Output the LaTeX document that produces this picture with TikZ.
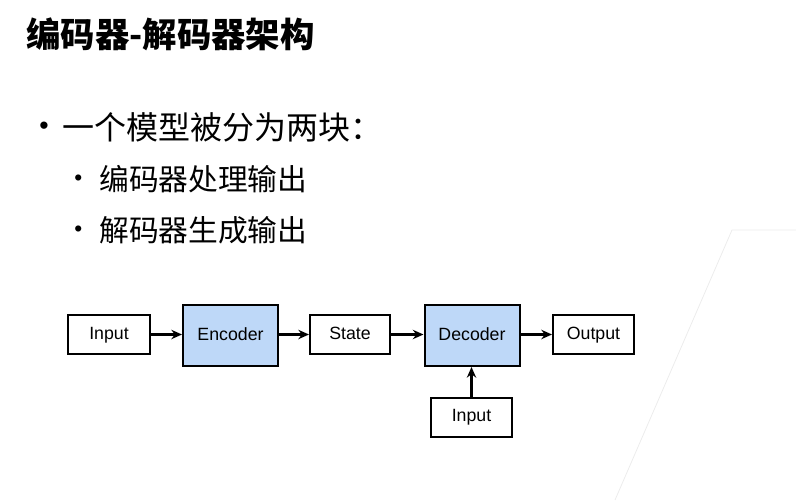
\documentclass[tikz,border=0pt]{standalone}
\usepackage{fontspec}
\setmainfont{Liberation Sans}
\newfontfamily\cjk{Noto Sans CJK SC}
\usetikzlibrary{arrows.meta}
\definecolor{boxblue}{RGB}{190,216,248}
\definecolor{deco}{RGB}{236,236,236}
\tikzset{
  plainbox/.style={draw=black, line width=1.5pt, minimum height=39*0.75pt, inner sep=0pt, text height=10pt, text depth=2.7pt, font=\fontsize{13.3}{15}\selectfont},
  codebox/.style={draw=black, line width=1.5pt, fill=boxblue, minimum width=95*0.75pt, minimum height=61*0.75pt, inner sep=0pt, text height=10pt, text depth=2.7pt, font=\fontsize{13.3}{15}\selectfont},
  flow/.style={draw=black, line width=1.6pt, -{Stealth[length=8pt,width=7pt]}},
  txt/.style={anchor=west, inner sep=0pt},
}
\begin{document}
\begin{tikzpicture}[x=0.75pt,y=-0.75pt]
\useasboundingbox (0,0) rectangle (796,500);
% faint decoration
\draw[deco, line width=0.6pt] (615,500) -- (732,230) -- (796,230);
% title
\node[txt] (title) at (26,34) {\cjk\bfseries\fontsize{25.8}{28}\selectfont 编码器-解码器架构};
% bullets
\node[txt] (b1dot) at (39,128) {\fontsize{20}{22}\selectfont •};
\node[txt] (b1) at (62,127) {\cjk\fontsize{24}{28}\selectfont 一个模型被分为两块：};
\node[txt] (b2dot) at (74,180) {\fontsize{17}{20}\selectfont •};
\node[txt] (b2) at (99,179) {\cjk\fontsize{22.3}{26}\selectfont 编码器处理输出};
\node[txt] (b3dot) at (74,231) {\fontsize{17}{20}\selectfont •};
\node[txt] (b3) at (99,230) {\cjk\fontsize{22.3}{26}\selectfont 解码器生成输出};
% diagram
\node[plainbox, minimum width=82*0.75pt] (in1) at (109,334.5) {Input};
\node[codebox] (enc) at (230.5,335.5) {Encoder};
\node[plainbox, minimum width=80*0.75pt] (state) at (350,334.5) {State};
\node[codebox] (dec) at (472,335.5) {Decoder};
\node[plainbox, minimum width=81*0.75pt] (out) at (593.5,334.5) {Output};
\node[plainbox, minimum width=81*0.75pt] (in2) at (471.5,417) {Input};
\draw[flow] (in1.east) -- (enc.west |- in1.east);
\draw[flow] (enc.east |- state.west) -- (state.west);
\draw[flow] (state.east) -- (dec.west |- state.east);
\draw[flow] (dec.east |- out.west) -- (out.west);
\draw[flow] (in2.north) -- (in2.north |- dec.south);
\end{tikzpicture}
\end{document}
